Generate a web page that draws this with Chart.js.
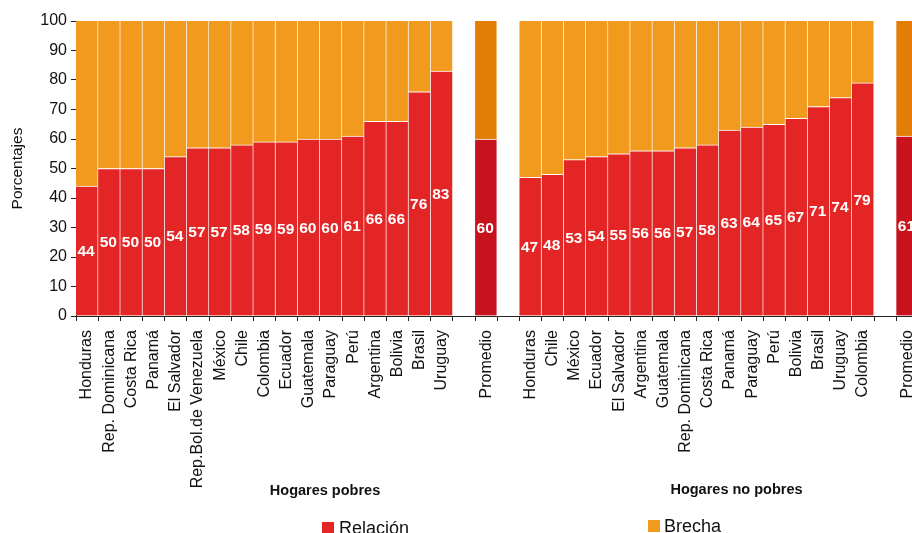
<!DOCTYPE html>
<html><head><meta charset="utf-8">
<script src="https://cdn.jsdelivr.net/npm/chart.js@4.4.1/dist/chart.umd.min.js"></script>
<style>
html,body{margin:0;padding:0;background:#fff;overflow:hidden;width:912px;height:533px}
#wrap{position:absolute;left:0;top:0;width:940px;height:533px}
</style></head><body>
<div id="wrap"><canvas id="c"></canvas></div>
<script>
// ---- Data ----
const pobresCountries = ["Honduras","Rep. Dominicana","Costa Rica","Panamá","El Salvador","Rep.Bol.de Venezuela","México","Chile","Colombia","Ecuador","Guatemala","Paraguay","Perú","Argentina","Bolivia","Brasil","Uruguay"];
const relacionPobres = [44,50,50,50,54,57,57,58,59,59,60,60,61,66,66,76,83];
const brechaPobres   = [56,50,50,50,46,43,43,42,41,41,40,40,39,34,34,24,17];

const noPobresCountries = ["Honduras","Chile","México","Ecuador","El Salvador","Argentina","Guatemala","Rep. Dominicana","Costa Rica","Panamá","Paraguay","Perú","Bolivia","Brasil","Uruguay","Colombia"];
const relacionNoPobres = [47,48,53,54,55,56,56,57,58,63,64,65,67,71,74,79];
const brechaNoPobres   = [53,52,47,46,45,44,44,43,42,37,36,35,33,29,26,21];

const promedioLabel = "Promedio";
const relacionPromedio = [60, 61];   // pobres, no pobres
const brechaPromedio   = [40, 39];

const groupTitles = ["Hogares pobres", "Hogares no pobres"];
const seriesNames = ["Relación", "Brecha"];
const yTicks = [0,10,20,30,40,50,60,70,80,90,100];
const yTitle = "Porcentajes";

// ---- Styles ----
const RED = '#E42525', ORANGE = '#F29A1E', RED_P = '#C8131F', ORANGE_P = '#E27E08';
const FONT = '"Liberation Sans", Arial, Helvetica, sans-serif';

// ---- Build category table ----
const categories = [...pobresCountries, "", promedioLabel, "", ...noPobresCountries, "", promedioLabel];
const relacion = [...relacionPobres, null, relacionPromedio[0], null, ...relacionNoPobres, null, relacionPromedio[1]];
const brecha   = [...brechaPobres,   null, brechaPromedio[0],   null, ...brechaNoPobres,   null, brechaPromedio[1]];
const isProm = categories.map(c => c === promedioLabel);

const valueLabels = {
  id: 'valueLabels',
  afterDatasetsDraw(chart) {
    const meta = chart.getDatasetMeta(0);
    const data = chart.data.datasets[0].data;
    const c = chart.ctx;
    c.save();
    c.fillStyle = '#fff';
    c.font = 'bold 15.5px ' + FONT;
    c.textAlign = 'center';
    c.textBaseline = 'middle';
    meta.data.forEach((el, i) => {
      if (data[i] == null) return;
      c.fillText(String(data[i]), el.x - 1, (el.y + el.base) / 2 + 1);
    });
    c.restore();
  }
};

const extras = {
  id: 'extras',
  afterDraw(chart) {
    const c = chart.ctx;
    c.save();
    c.fillStyle = '#111';
    c.font = 'bold 14.5px ' + FONT;
    c.textAlign = 'center';
    c.textBaseline = 'alphabetic';
    c.fillText(groupTitles[0], 325, 495);
    c.fillText(groupTitles[1], 736.5, 494);
    // legend
    c.fillStyle = RED;    c.fillRect(322, 522, 12, 12);
    c.fillStyle = ORANGE; c.fillRect(648, 520, 12, 12);
    c.fillStyle = '#111';
    c.font = '18px ' + FONT;
    c.textAlign = 'left';
    c.fillText(seriesNames[0], 339, 533.5);
    c.fillText(seriesNames[1], 664, 531.5);
    c.restore();
  }
};

new Chart(document.getElementById('c'), {
  type: 'bar',
  data: {
    labels: categories,
    datasets: [
      { label: seriesNames[0], data: relacion,
        backgroundColor: isProm.map(p => p ? RED_P : RED),
        borderColor: '#fff', borderWidth: {top: 1, right: 1, bottom: 0, left: 0}, borderSkipped: false,
        barPercentage: 1, categoryPercentage: 1 },
      { label: seriesNames[1], data: brecha,
        backgroundColor: isProm.map(p => p ? ORANGE_P : ORANGE),
        borderColor: '#fff', borderWidth: {top: 0, right: 1, bottom: 0, left: 0}, borderSkipped: false,
        barPercentage: 1, categoryPercentage: 1 }
    ]
  },
  options: {
    responsive: true, maintainAspectRatio: false, animation: false,
    layout: { padding: { top: 21, right: 21.5, bottom: 37, left: 0 } },
    plugins: { legend: { display: false }, tooltip: { enabled: false } },
    scales: {
      x: {
        stacked: true,
        grid: { offset: true, drawOnChartArea: false, tickLength: 5, color: '#222' },
        border: { color: '#222' },
        ticks: { autoSkip: false, minRotation: 90, maxRotation: 90, padding: 9, color: '#111',
                 font: { family: FONT, size: 16 } },
        afterFit(s) { s.height = 180; }
      },
      y: {
        stacked: true, min: 0, max: 100,
        afterBuildTicks(s) { s.ticks = yTicks.map(v => ({ value: v })); },
        ticks: { padding: 4, color: '#111', font: { family: FONT, size: 16 } },
        grid: { drawOnChartArea: false, tickLength: 5, color: '#222' },
        border: { color: '#222' },
        title: { display: true, text: yTitle, color: '#111', font: { family: FONT, size: 15.5 }, padding: { top: 8, bottom: 0 } },
        afterFit(s) { s.width = 76; }
      }
    }
  },
  plugins: [valueLabels, extras]
});
</script>
</body></html>
